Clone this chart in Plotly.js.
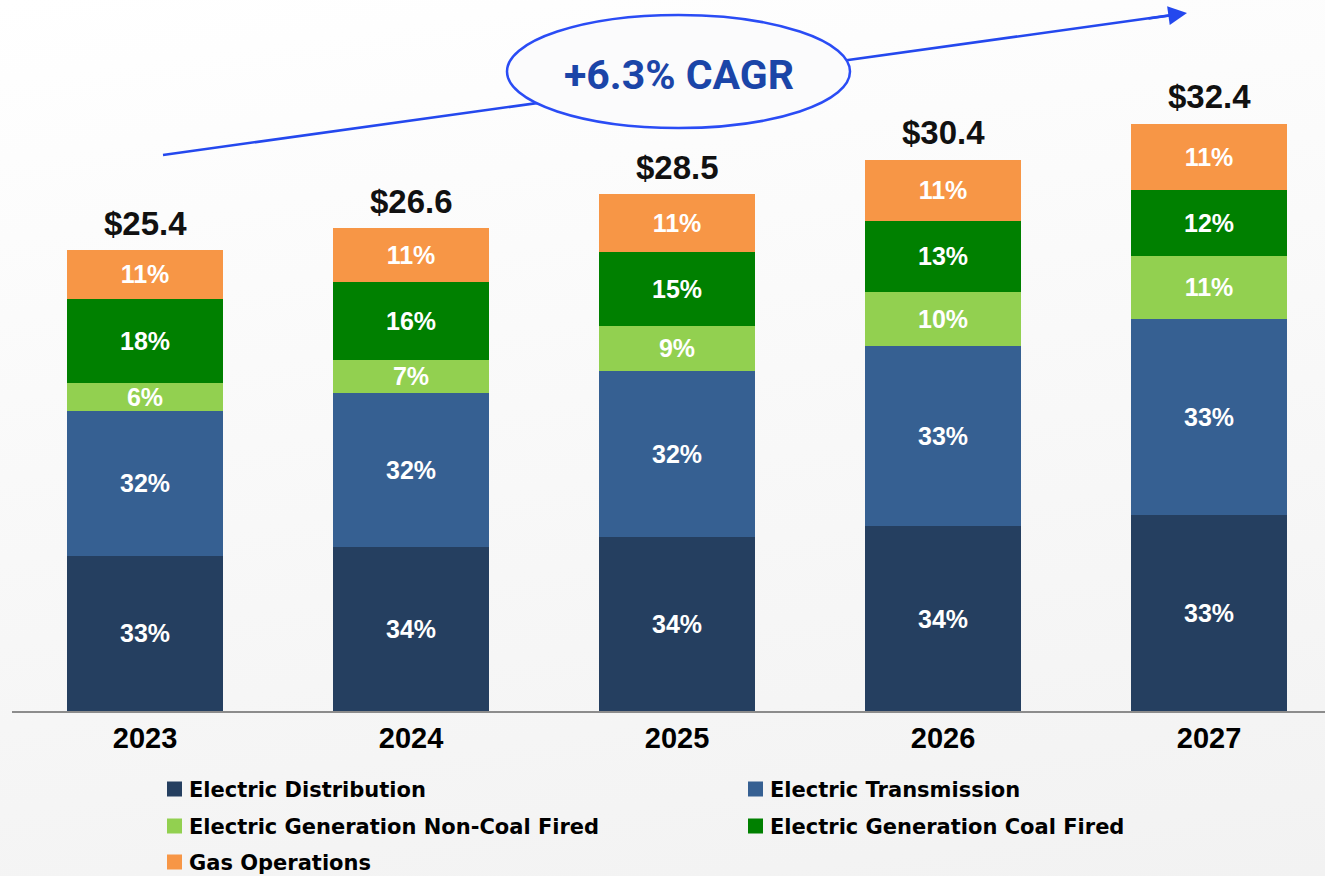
<!DOCTYPE html>
<html><head><meta charset="utf-8">
<script src="https://cdn.plot.ly/plotly-3.0.1.min.js"></script>
<style>
html,body{margin:0;padding:0;}
body{background:linear-gradient(172deg,#ffffff 0%,#f9f9f9 45%,#f2f2f2 100%);width:1325px;height:876px;overflow:hidden;}
#chart{width:1325px;height:876px;}
</style>
</head><body><div id="chart"></div>
<script>
// ---- data ----
const years = ['2023', '2024', '2025', '2026', '2027'];
const totals = [25.4, 26.6, 28.5, 30.4, 32.4];
const distribution = [8.54, 9.04, 9.59, 10.19, 10.80];
const transmission = [7.99, 8.48, 9.15, 9.92, 10.80];
const nonCoal = [1.54, 1.82, 2.48, 2.98, 3.47];
const coal = [4.63, 4.30, 4.08, 3.91, 3.64];
const gas = [2.70, 2.98, 3.20, 3.36, 3.64];
const pctDist = [33, 34, 34, 34, 33];
const pctTrans = [32, 32, 32, 33, 33];
const pctNonCoal = [6, 7, 9, 10, 11];
const pctCoal = [18, 16, 15, 13, 12];
const pctGas = [11, 11, 11, 11, 11];
const cagrLabel = '+6.3% CAGR';

const seriesNames = ['Electric Distribution', 'Electric Transmission', 'Electric Generation Non-Coal Fired', 'Electric Generation Coal Fired', 'Gas Operations'];
const seriesVals = [distribution, transmission, nonCoal, coal, gas];
const seriesPct = [pctDist, pctTrans, pctNonCoal, pctCoal, pctGas];
const colors = ['#253f60', '#366092', '#92d050', '#008000', '#f79646'];

// pixel helpers for paper-referenced decorations (plot area: x 12..1325, y 0..711)
const PL = 12, PW = 1313, PH = 711;
const px = v => (v - PL) / PW;
const py = v => (PH - v) / PH;

const traces = seriesNames.map((n, i) => ({
  type: 'bar',
  name: n,
  x: years,
  y: seriesVals[i],
  text: seriesPct[i].map(p => p + '%'),
  textposition: 'inside',
  insidetextanchor: 'middle',
  textangle: 0,
  textfont: {family: 'Liberation Sans, Arial, sans-serif', size: 25, color: '#ffffff', weight: 700},
  marker: {color: colors[i], line: {width: 0}},
  hoverinfo: 'skip'
}));

// total labels: category axis annotations use the category index
const annotations = years.map((yr, i) => ({
  x: i, y: totals[i], xref: 'x', yref: 'y',
  text: '$' + totals[i].toFixed(1),
  showarrow: false, yanchor: 'bottom', yshift: 6,
  font: {family: 'Liberation Sans, Arial, sans-serif', size: 33, color: '#111111', weight: 700}
}));

annotations.push({
  xref: 'paper', yref: 'paper', x: px(679), y: py(75),
  text: cagrLabel, showarrow: false, xanchor: 'center', yanchor: 'middle',
  font: {family: 'Roboto, Liberation Sans, sans-serif', size: 41, color: '#1b45a8', weight: 700}
});
annotations.push({
  xref: 'paper', yref: 'paper', x: px(1187), y: py(13),
  ax: -40, ay: 5.6, text: '', showarrow: true,
  arrowhead: 2, arrowsize: 1.5, arrowwidth: 2.5, arrowcolor: '#2448ee', standoff: 0
});

const shapes = [
  {type: 'line', xref: 'paper', yref: 'paper', x0: px(163), y0: py(155), x1: px(1172), y1: py(15),
   line: {color: '#2448ee', width: 2.5}},
  {type: 'circle', xref: 'paper', yref: 'paper', x0: px(507), x1: px(850), y0: py(128), y1: py(15),
   fillcolor: '#fbfbfc', line: {color: '#2a4cf5', width: 2.5}, layer: 'above'}
];

// legend (two columns)
const legColX = [167, 748];
const legRowY = [789, 826, 862];
seriesNames.forEach((n, i) => {
  const cx = legColX[i % 2], cy = legRowY[Math.floor(i / 2)];
  shapes.push({type: 'rect', xref: 'paper', yref: 'paper',
    x0: px(cx), x1: px(cx + 15), y0: py(cy + 7.5), y1: py(cy - 7.5),
    fillcolor: colors[i], line: {width: 0}});
  annotations.push({xref: 'paper', yref: 'paper', x: px(cx + 20), y: py(cy + 1),
    text: n, showarrow: false, xanchor: 'left', yanchor: 'middle',
    font: {family: 'DejaVu Sans, sans-serif', size: 21, color: '#000000', weight: 700}});
});

const layout = {
  width: 1325, height: 876,
  margin: {l: PL, r: 0, t: 0, b: 876 - PH, autoexpand: false},
  paper_bgcolor: 'rgba(0,0,0,0)',
  plot_bgcolor: 'rgba(0,0,0,0)',
  barmode: 'stack',
  bargap: 0.414,
  showlegend: false,
  xaxis: {
    type: 'category', range: [-0.5, 4.436],
    showline: true, linecolor: '#8c8c8c', linewidth: 2,
    showgrid: false, zeroline: false, ticks: '',
    tickfont: {family: 'Liberation Sans, Arial, sans-serif', size: 29, color: '#000000', weight: 700},
    fixedrange: true
  },
  yaxis: {
    range: [0, 39.17], showticklabels: false, showline: false, ticks: '',
    showgrid: false, zeroline: false, fixedrange: true
  },
  uniformtext: {mode: 'show', minsize: 25},
  shapes: shapes,
  annotations: annotations
};

Plotly.newPlot('chart', traces, layout, {displayModeBar: false, staticPlot: true});
</script>
</body></html>
